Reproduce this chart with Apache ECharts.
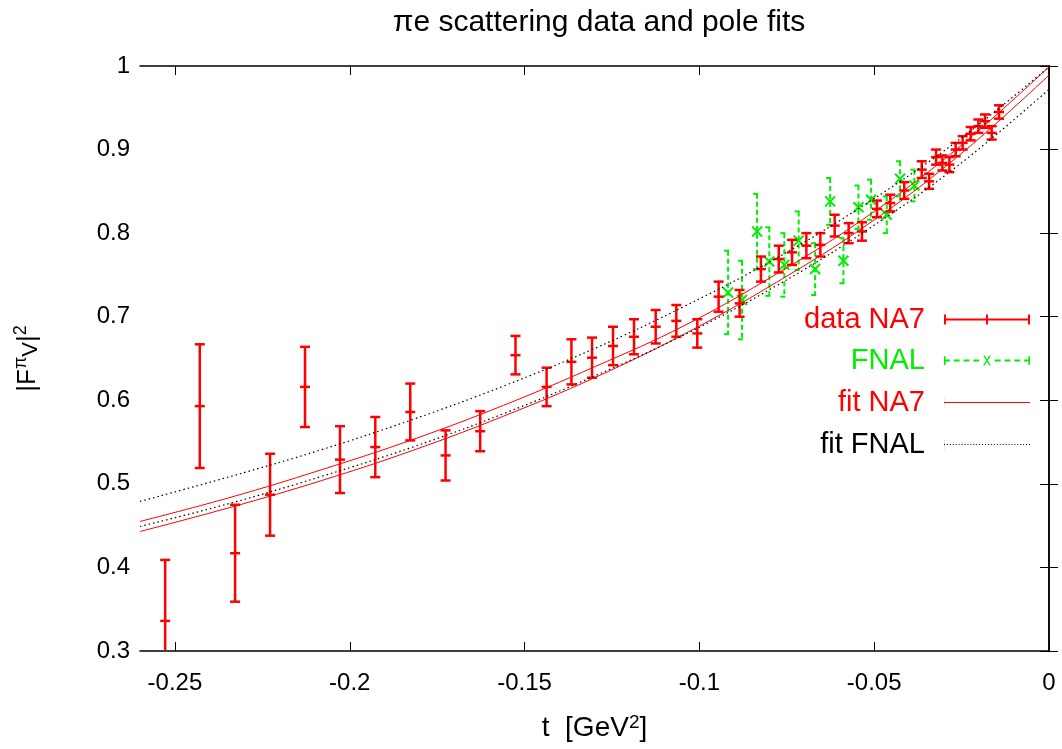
<!DOCTYPE html>
<html>
<head>
<meta charset="utf-8">
<title>pi e scattering</title>
<script src="https://cdn.jsdelivr.net/npm/echarts@6/dist/echarts.min.js"></script>
<style>
  html, body { margin: 0; padding: 0; background: #fff; }
  #chart { width: 1062px; height: 749px; }
</style>
</head>
<body>
<div id="chart"></div>
<script>
// NA7 data: t [GeV^2], |F|^2 and its error
const na7T = [-0.2528, -0.2429, -0.2328, -0.2228, -0.2128, -0.2028, -0.1927, -0.1827, -0.1726, -0.1627,
  -0.1526, -0.1437, -0.1366, -0.1307, -0.1247, -0.1187, -0.1125, -0.1066, -0.1006, -0.0945,
  -0.0885, -0.0824, -0.0773, -0.0735, -0.0694, -0.0654, -0.0613, -0.0573, -0.0535, -0.0492,
  -0.0454, -0.0414, -0.0364, -0.0343, -0.0323, -0.0305, -0.0285, -0.0267, -0.0247, -0.0224,
  -0.0202, -0.0183, -0.0164, -0.0143];
const na7F = [0.336, 0.593, 0.417, 0.487, 0.616, 0.529, 0.544, 0.586, 0.534, 0.563,
  0.654, 0.616, 0.646, 0.651, 0.665, 0.676, 0.688, 0.695, 0.680, 0.724,
  0.716, 0.757, 0.769, 0.777, 0.785, 0.786, 0.809, 0.800, 0.802, 0.829,
  0.836, 0.851, 0.876, 0.862, 0.891, 0.884, 0.882, 0.900, 0.908, 0.919,
  0.928, 0.934, 0.920, 0.945];
const na7Err = [0.073, 0.074, 0.058, 0.049, 0.048, 0.040, 0.036, 0.034, 0.030, 0.024,
  0.023, 0.023, 0.027, 0.024, 0.023, 0.021, 0.020, 0.019, 0.017, 0.018,
  0.016, 0.015, 0.016, 0.015, 0.015, 0.014, 0.013, 0.012, 0.011, 0.010,
  0.010, 0.010, 0.010, 0.009, 0.009, 0.009, 0.009, 0.008, 0.008, 0.008,
  0.008, 0.008, 0.008, 0.008];

// FNAL data
const fnalT = [-0.0918, -0.0878, -0.0835, -0.0800, -0.0757, -0.0716, -0.0669,
  -0.0626, -0.0588, -0.0545, -0.0509, -0.0464, -0.0426, -0.0385];
const fnalF = [0.729, 0.720, 0.802, 0.766, 0.762, 0.791, 0.757,
  0.838, 0.767, 0.831, 0.840, 0.822, 0.865, 0.857];
const fnalErr = [0.050, 0.047, 0.045, 0.041, 0.038, 0.035, 0.031,
  0.028, 0.027, 0.026, 0.024, 0.022, 0.021, 0.019];

// pole fit bands
const fitT = [-0.26, -0.234, -0.208, -0.182, -0.156, -0.13, -0.104, -0.078, -0.052, -0.026, 0];
const fitNa7Upper = [0.455, 0.484, 0.517, 0.553, 0.594, 0.640, 0.690, 0.751, 0.820, 0.902, 0.999];
const fitNa7Lower = [0.443, 0.472, 0.504, 0.540, 0.581, 0.627, 0.680, 0.741, 0.810, 0.892, 0.989];
const fitFnalUpper = [0.479, 0.509, 0.541, 0.577, 0.617, 0.662, 0.713, 0.770, 0.836, 0.911, 0.999];
const fitFnalLower = [0.449, 0.477, 0.509, 0.544, 0.584, 0.629, 0.679, 0.737, 0.804, 0.881, 0.972];

// tick labels
const tickX = [-0.25, -0.2, -0.15, -0.1, -0.05, 0];
const tickY = [0.3, 0.4, 0.5, 0.6, 0.7, 0.8, 0.9, 1];

const red = '#ff0000';
const green = '#00ee00';
const font = 'Liberation Sans';

/**
 * Draws one vertical error bar with caps and a centre marker.
 */
const errorBar = (api, opts) => {
  const t = api.value(0);
  const v = api.value(1);
  const e = api.value(2);
  const c = api.coord([t, v]);
  const top = api.coord([t, v + e])[1];
  const bot = api.coord([t, v - e])[1];
  const x = c[0];
  const style = { stroke: opts.color, lineWidth: opts.width, lineDash: opts.dash };
  const m = opts.mark;
  const markStyle = { stroke: opts.color, lineWidth: opts.width };
  const children = [
    { type: 'line', shape: { x1: x, y1: top, x2: x, y2: bot }, style },
    { type: 'line', shape: { x1: x - opts.cap, y1: top, x2: x + opts.cap, y2: top }, style },
    { type: 'line', shape: { x1: x - opts.cap, y1: bot, x2: x + opts.cap, y2: bot }, style }
  ];
  if (opts.cross) {
    children.push({ type: 'line', shape: { x1: x - m, y1: c[1] - m, x2: x + m, y2: c[1] + m }, style: markStyle });
    children.push({ type: 'line', shape: { x1: x - m, y1: c[1] + m, x2: x + m, y2: c[1] - m }, style: markStyle });
  } else {
    children.push({ type: 'line', shape: { x1: x - m, y1: c[1], x2: x + m, y2: c[1] }, style: markStyle });
  }
  return { type: 'group', children };
};

const makeLegend = (name, top, color, icon) => ({
  data: [{ name, icon }],
  orient: 'vertical',
  align: 'right',
  right: 32,
  top,
  padding: 0,
  itemWidth: 86,
  itemHeight: 10,
  symbolKeepAspect: false,
  textStyle: { color, fontFamily: font, fontSize: 29, padding: [0, 14, 0, 0] }
});

const na7Icon = 'path://M0,4h88v2h-88z M0,0h2v10h-2z M43,0h2v10h-2z M86,0h2v10h-2z';
const fnalIcon = 'path://M0,4.2h6v1.6h-6z M10,4.2h6v1.6h-6z M20,4.2h6v1.6h-6z M30,4.2h6v1.6h-6z ' +
  'M52,4.2h6v1.6h-6z M62,4.2h6v1.6h-6z M72,4.2h6v1.6h-6z M82,4.2h6v1.6h-6z ' +
  'M0,1.5h1.6v7h-1.6z M86.4,1.5h1.6v7h-1.6z ' +
  'M40,1L41.6,1L48,9L46.4,9Z M46.4,1L48,1L41.6,9L40,9Z';
const fitIcon = 'path://M0,4.5h88v1h-88z M0,0h0.1v10h-0.1z';
let dots = 'path://M0,0h0.1v10h-0.1z';
for (let i = 0; i < 88; i += 3) {
  dots += ' M' + i + ',4.5h1v1h-1z';
}
const dotIcon = dots;

const axisLine = { lineStyle: { color: '#000', width: 1.5 } };
const axisTick = { inside: true, length: 9, lineStyle: { color: '#000', width: 1 } };

const chart = echarts.init(document.getElementById('chart'), null, { renderer: 'canvas' });

chart.setOption({
  animation: false,
  backgroundColor: '#fff',
  title: {
    text: '\u03c0e scattering data and pole fits',
    left: 594,
    top: 3,
    textAlign: 'center',
    textStyle: { fontFamily: font, fontSize: 30, fontWeight: 'normal', color: '#000' }
  },
  grid: { left: 140, right: 13, top: 66, bottom: 96 },
  legend: [
    makeLegend('data NA7', 305, red, na7Icon),
    makeLegend('FNAL', 346, green, fnalIcon),
    makeLegend('fit NA7', 388, red, fitIcon),
    makeLegend('fit FNAL', 430, '#000', dotIcon)
  ],
  xAxis: [
    {
      type: 'value', min: -0.26, max: 0, position: 'bottom',
      axisLine, splitLine: { show: false },
      axisTick: Object.assign({ customValues: tickX }, axisTick),
      axisLabel: {
        customValues: tickX, margin: 20,
        fontFamily: font, fontSize: 24, color: '#000',
        formatter: (v) => String(v)
      },
      name: 't  [GeV{sup|2}]',
      nameLocation: 'middle',
      nameGap: 62,
      nameTextStyle: {
        fontFamily: font, fontSize: 28, color: '#000',
        rich: { sup: { fontFamily: font, fontSize: 19, verticalAlign: 'top', lineHeight: 30, padding: [0, 0, 12, 0] } }
      }
    },
    {
      type: 'value', min: -0.26, max: 0, position: 'top',
      axisLine, splitLine: { show: false },
      axisTick: Object.assign({ customValues: tickX }, axisTick),
      axisLabel: { show: false }
    }
  ],
  yAxis: [
    {
      type: 'value', min: 0.3, max: 1, position: 'left',
      axisLine, splitLine: { show: false },
      axisTick: Object.assign({ customValues: tickY }, axisTick),
      axisLabel: {
        customValues: tickY, margin: 10,
        fontFamily: font, fontSize: 24, color: '#000',
        formatter: (v) => String(+v.toFixed(1))
      },
      name: '|F{sup|\u03c0}{sub|V}|{sup|2}',
      nameLocation: 'middle',
      nameGap: 96,
      nameTextStyle: {
        fontFamily: font, fontSize: 26, color: '#000',
        rich: {
          sup: { fontFamily: font, fontSize: 18, padding: [0, 0, 14, 0] },
          sub: { fontFamily: font, fontSize: 22, padding: [6, 0, 0, 0] }
        }
      }
    },
    {
      type: 'value', min: 0.3, max: 1, position: 'right',
      axisLine, splitLine: { show: false },
      axisTick: Object.assign({ customValues: tickY }, axisTick),
      axisLabel: { show: false }
    }
  ],
  series: [
    {
      name: 'fit NA7', type: 'line', smooth: 0.4, symbol: 'none',
      lineStyle: { color: red, width: 1 }, itemStyle: { color: red },
      data: fitT.map((t, i) => [t, fitNa7Upper[i]])
    },
    {
      name: 'fit NA7', type: 'line', smooth: 0.4, symbol: 'none',
      lineStyle: { color: red, width: 1 }, itemStyle: { color: red },
      data: fitT.map((t, i) => [t, fitNa7Lower[i]])
    },
    {
      name: 'fit FNAL', type: 'line', smooth: 0.4, symbol: 'none',
      lineStyle: { color: '#000', width: 1.2, type: [1.5, 3] }, itemStyle: { color: '#000' },
      data: fitT.map((t, i) => [t, fitFnalUpper[i]])
    },
    {
      name: 'fit FNAL', type: 'line', smooth: 0.4, symbol: 'none',
      lineStyle: { color: '#000', width: 1.2, type: [1.5, 3] }, itemStyle: { color: '#000' },
      data: fitT.map((t, i) => [t, fitFnalLower[i]])
    },
    {
      name: 'FNAL', type: 'custom', clip: true,
      itemStyle: { color: green },
      encode: { x: 0, y: 1 },
      renderItem: (params, api) => errorBar(api, { color: green, width: 2, dash: [5, 3], cap: 4, mark: 5, cross: true }),
      data: fnalT.map((t, i) => [t, fnalF[i], fnalErr[i]])
    },
    {
      name: 'data NA7', type: 'custom', clip: true,
      itemStyle: { color: red },
      encode: { x: 0, y: 1 },
      renderItem: (params, api) => errorBar(api, { color: red, width: 2.5, dash: null, cap: 5, mark: 5, cross: false }),
      data: na7T.map((t, i) => [t, na7F[i], na7Err[i]])
    }
  ]
});
</script>
</body>
</html>
